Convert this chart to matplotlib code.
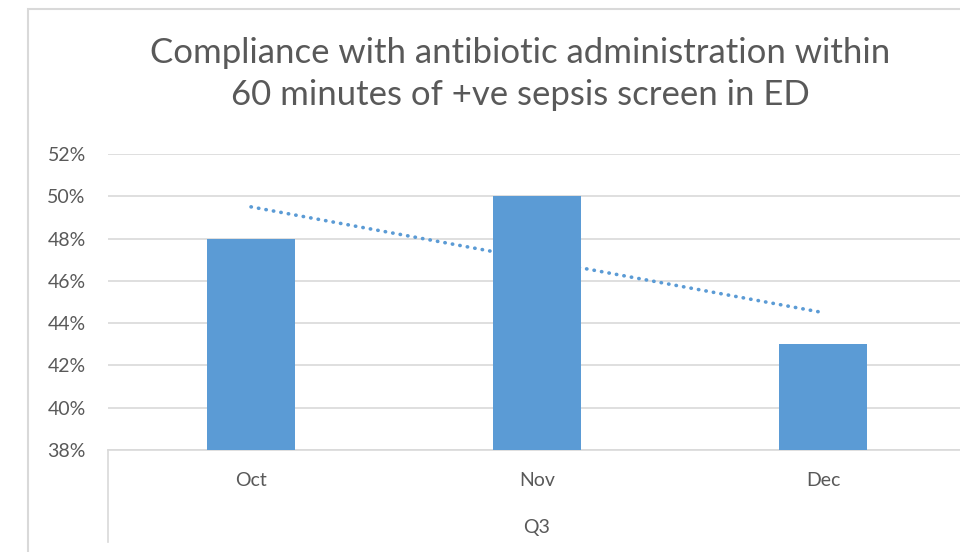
import matplotlib.pyplot as plt
import matplotlib.patches as mpatches
import numpy as np

# data
months = ["Oct", "Nov", "Dec"]
quarter = "Q3"
compliance = [0.48, 0.50, 0.43]
title = "Compliance with antibiotic administration within\n60 minutes of +ve sepsis screen in ED"

W, H = 960, 552
bar_blue = "#5B9BD5"
txt = "#595959"
grid = "#D9D9D9"
plt.rcParams['font.family'] = ['Lato', 'DejaVu Sans']

fig = plt.figure(figsize=(W / 100, H / 100), dpi=100)

def fx(px):
    return px / W

def fy(py):
    return 1 - py / H

# chart frame (runs off the right and bottom of the picture)
fig.patches.append(mpatches.Rectangle((fx(28), fy(560)), fx(1000), fy(9) - fy(560),
                                      transform=fig.transFigure, fill=False,
                                      edgecolor=grid, linewidth=1.5))

ax = fig.add_axes([fx(108), fy(450), fx(966) - fx(108), fy(154) - fy(450)])
x = np.arange(len(months))
ax.bar(x, compliance, width=0.31, color=bar_blue, zorder=3)

# linear trendline drawn behind the bars
slope, icpt = np.polyfit(x, compliance, 1)
ax.plot(x, slope * x + icpt, linestyle=(0, (0.1, 2)), dash_capstyle='round',
        color=bar_blue, linewidth=2.6, zorder=2)

ax.set_xlim(-0.5, 2.5)
ax.set_ylim(0.38, 0.52)
ax.set_yticks(np.arange(0.38, 0.5201, 0.02))
ax.set_yticklabels([f"{v * 100:.0f}%" for v in np.arange(0.38, 0.5201, 0.02)])
ax.yaxis.grid(True, color=grid, linewidth=1.2, zorder=0)
ax.set_axisbelow(True)
ax.tick_params(axis='y', length=0, pad=16, labelsize=14, labelcolor=txt)
ax.set_xticks([])
for s in ["top", "right", "left"]:
    ax.spines[s].set_visible(False)
ax.spines["bottom"].set_color(grid)
ax.spines["bottom"].set_linewidth(1.2)

# multi-level category labels
for i, m in enumerate(months):
    ax.annotate(m, xy=(i, 0), xycoords=('data', 'axes fraction'), xytext=(0, -31),
                textcoords='offset pixels', ha='center', va='center',
                fontsize=14, color=txt)
ax.annotate(quarter, xy=(1, 0), xycoords=('data', 'axes fraction'), xytext=(0, -77),
            textcoords='offset pixels', ha='center', va='center', fontsize=14, color=txt)
fig.add_artist(plt.Line2D([fx(108), fx(108)], [fy(450), fy(542)], color=grid, linewidth=1.2))

fig.text(fx(520), fy(74), title, ha='center', va='center', fontsize=25,
         color=txt, linespacing=1.35)

fig.savefig("out.png", dpi=100)
